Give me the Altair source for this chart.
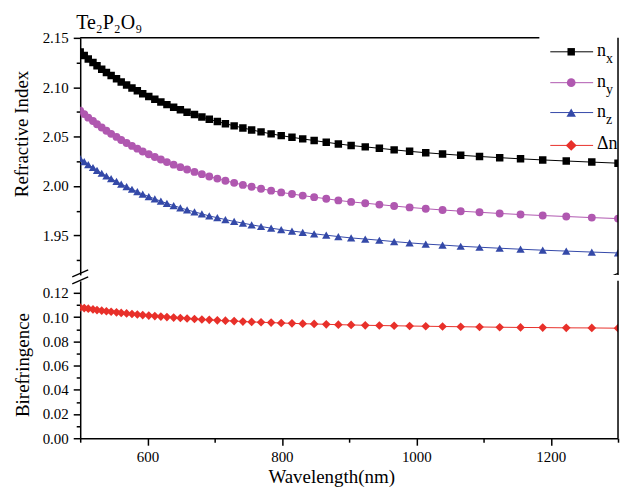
import altair as alt
import pandas as pd

# ---------------- data ----------------
wavelength = [500, 506, 512, 519, 525, 532, 539, 546, 554, 561, 569, 577, 585, 593, 602, 611,
              620, 629, 639, 649, 659, 670, 681, 692, 704, 716, 729, 742, 755, 769, 784, 799,
              815, 831, 848, 866, 884, 903, 924, 945, 967, 990, 1014, 1039, 1066, 1094, 1124,
              1155, 1188, 1223, 1261, 1300]
n_x = [2.1358, 2.1322, 2.1286, 2.1251, 2.1217, 2.1183, 2.1150, 2.1118, 2.1086, 2.1054,
       2.1023, 2.0993, 2.0964, 2.0935, 2.0906, 2.0878, 2.0851, 2.0824, 2.0798, 2.0772,
       2.0747, 2.0723, 2.0699, 2.0675, 2.0653, 2.0631, 2.0609, 2.0588, 2.0568, 2.0548,
       2.0528, 2.0510, 2.0493, 2.0477, 2.0460, 2.0443, 2.0426, 2.0410, 2.0396, 2.0382,
       2.0366, 2.0351, 2.0337, 2.0324, 2.0311, 2.0299, 2.0287, 2.0275, 2.0264, 2.0253,
       2.0242, 2.0231]
n_y = [2.0763, 2.0728, 2.0692, 2.0658, 2.0625, 2.0592, 2.0559, 2.0528, 2.0497, 2.0466,
       2.0435, 2.0406, 2.0378, 2.0350, 2.0321, 2.0294, 2.0268, 2.0242, 2.0216, 2.0191,
       2.0167, 2.0143, 2.0120, 2.0096, 2.0075, 2.0053, 2.0032, 2.0011, 1.9992, 1.9972,
       1.9953, 1.9935, 1.9919, 1.9903, 1.9887, 1.9871, 1.9854, 1.9839, 1.9826, 1.9812,
       1.9797, 1.9783, 1.9770, 1.9757, 1.9745, 1.9734, 1.9722, 1.9711, 1.9701, 1.9691,
       1.9680, 1.9670]
n_z = [2.0278, 2.0247, 2.0217, 2.0187, 2.0158, 2.0129, 2.0101, 2.0074, 2.0046, 2.0019,
       1.9993, 1.9967, 1.9943, 1.9918, 1.9893, 1.9869, 1.9846, 1.9824, 1.9802, 1.9779,
       1.9758, 1.9738, 1.9718, 1.9697, 1.9679, 1.9660, 1.9641, 1.9624, 1.9607, 1.9590,
       1.9573, 1.9558, 1.9544, 1.9531, 1.9516, 1.9502, 1.9488, 1.9474, 1.9463, 1.9451,
       1.9437, 1.9424, 1.9412, 1.9402, 1.9390, 1.9380, 1.9370, 1.9360, 1.9350, 1.9341,
       1.9331, 1.9322]
delta_n = [0.1080, 0.1075, 0.1070, 0.1064, 0.1059, 0.1054, 0.1049, 0.1045, 0.1040, 0.1035,
           0.1031, 0.1026, 0.1022, 0.1017, 0.1013, 0.1009, 0.1005, 0.1001, 0.0997, 0.0993,
           0.0989, 0.0985, 0.0981, 0.0978, 0.0974, 0.0971, 0.0968, 0.0964, 0.0961, 0.0958,
           0.0955, 0.0952, 0.0949, 0.0946, 0.0944, 0.0941, 0.0938, 0.0936, 0.0933, 0.0931,
           0.0929, 0.0927, 0.0925, 0.0923, 0.0921, 0.0919, 0.0917, 0.0915, 0.0914, 0.0912,
           0.0911, 0.0909]

series = ["nx", "ny", "nz", "dn"]
legend_main = ["n", "n", "n", "\u0394n"]
legend_sub = ["x", "y", "z", ""]
colors = ["#000000", "#B058B0", "#3449A8", "#E8302A"]
shapes = ["square", "circle", "triangle-up", "diamond"]
sizes = [56, 76, 90, 120]

x_major = [600, 800, 1000, 1200]
x_minor = [500, 700, 900, 1100, 1300]
top_major = [1.95, 2.00, 2.05, 2.10, 2.15]
top_minor = [1.925, 1.975, 2.025, 2.075, 2.125]
bot_major = [0.00, 0.02, 0.04, 0.06, 0.08, 0.10, 0.12]
bot_minor = [0.01, 0.03, 0.05, 0.07, 0.09, 0.11]

title_text = "Te\u2082P\u2082O\u2089"
FONT = "Liberation Serif"

# ---------------- layout ----------------
W, HT, HB = 540, 238, 158
X_MIN, X_MAX = 500, 1300
TOP_FRAME_END = 1183  # legend box hides the rest of the top frame line

top_df = pd.concat([
    pd.DataFrame({"wavelength": wavelength, "value": v, "series": s})
    for v, s in [(n_x, "nx"), (n_y, "ny"), (n_z, "nz")]
])
bot_df = pd.DataFrame({"wavelength": wavelength, "value": delta_n, "series": "dn"})

color_scale = alt.Scale(domain=series, range=colors)
shape_scale = alt.Scale(domain=series, range=shapes)
size_scale = alt.Scale(domain=series, range=sizes)
x_scale = alt.Scale(domain=[X_MIN, X_MAX], nice=False)
top_y_scale = alt.Scale(domain=[1.91, 2.15], nice=False, zero=False)
bot_y_scale = alt.Scale(domain=[0, 0.13], nice=False, zero=False)

one = pd.DataFrame({"_": [0]})

axis_style = dict(labelFont=FONT, labelFontSize=15, labelColor="black",
                  titleFont=FONT, titleFontSize=19, titleColor="black", titleFontWeight="normal",
                  domainColor="black", domainWidth=1.5, tickColor="black", tickWidth=1.5, grid=False)


def major_axis(values, fmt, **kw):
    return alt.Axis(values=values, format=fmt, tickSize=7, labelOverlap=False, **axis_style, **kw)


def minor_axis(values, orient):
    return alt.Axis(values=values, tickSize=4, labels=False, domain=False, title=None,
                    orient=orient, tickColor="black", tickWidth=1.5, grid=False)


symbol_enc = dict(
    shape=alt.Shape("series:N", scale=shape_scale, legend=None),
    size=alt.Size("series:N", scale=size_scale, legend=None),
)
color_enc = alt.Color("series:N", scale=color_scale, legend=None)

# ---------------- top panel ----------------
top_lines = alt.Chart(top_df).mark_line(strokeWidth=1, clip=True).encode(
    x=alt.X("wavelength:Q", scale=x_scale, axis=None),
    y=alt.Y("value:Q", scale=top_y_scale,
            axis=major_axis(top_major, ".2f", orient="left", title="Refractive Index",
                            labelPadding=5, titleX=-59, titleY=96, titleAngle=270,
                            titleAlign="center", titleBaseline="middle")),
    color=color_enc,
)
top_points = alt.Chart(top_df).mark_point(filled=True, opacity=1, clip=True).encode(
    x=alt.X("wavelength:Q", scale=x_scale, axis=None),
    y=alt.Y("value:Q", scale=top_y_scale, axis=None),
    color=color_enc, **symbol_enc,
)
top_minor_ticks = alt.Chart(top_df).mark_point(opacity=0).encode(
    x=alt.X("wavelength:Q", scale=x_scale, axis=None),
    y=alt.Y("value:Q", scale=top_y_scale, axis=minor_axis(top_minor, "left")),
)

frame_top = alt.Chart(one).mark_rule(color="black", strokeWidth=1.5).encode(
    x=alt.value(0), x2=alt.value(W * (TOP_FRAME_END - X_MIN) / (X_MAX - X_MIN)), y=alt.value(0))
frame_right_top = alt.Chart(one).mark_rule(color="black", strokeWidth=1.5).encode(
    x=alt.value(W), y=alt.value(0), y2=alt.value(HT))

breaks = []
for bx, clip in [(0, False), (W, True)]:
    for dy in [0, 7]:
        breaks.append(alt.Chart(one).mark_rule(color="black", strokeWidth=1.3, clip=clip).encode(
            x=alt.value(bx - 8), x2=alt.value(bx + 8),
            y=alt.value(HT + 2 + dy), y2=alt.value(HT - 5 + dy)))

title_mark = alt.Chart(one).mark_text(
    text=title_text, font=FONT, fontSize=20, align="left", baseline="alphabetic", color="black"
).encode(x=alt.value(-4), y=alt.value(-9))

legend_layers = []
legend_rows = [14, 45, 75, 108]
for i, s in enumerate(series):
    yy = legend_rows[i]
    legend_layers.append(alt.Chart(one).mark_rule(color=colors[i], strokeWidth=1).encode(
        x=alt.value(472), x2=alt.value(515), y=alt.value(yy)))
    legend_layers.append(alt.Chart(one).mark_point(
        filled=True, opacity=1, shape=shapes[i], size=sizes[i], color=colors[i]
    ).encode(x=alt.value(493), y=alt.value(yy)))
    legend_layers.append(alt.Chart(one).mark_text(
        text=legend_main[i], font=FONT, fontSize=18, align="left", baseline="middle", color="black"
    ).encode(x=alt.value(519), y=alt.value(yy - 1)))
    if legend_sub[i]:
        legend_layers.append(alt.Chart(one).mark_text(
            text=legend_sub[i], font=FONT, fontSize=14, align="left", baseline="middle", color="black"
        ).encode(x=alt.value(528), y=alt.value(yy + 7)))

top = alt.layer(top_lines, top_points, top_minor_ticks, frame_top, frame_right_top, title_mark,
                *breaks, *legend_layers).resolve_axis(y="independent").properties(width=W, height=HT)

# ---------------- bottom panel ----------------
bot_lines = alt.Chart(bot_df).mark_line(strokeWidth=1, clip=True).encode(
    x=alt.X("wavelength:Q", scale=x_scale,
            axis=major_axis(x_major, "d", orient="bottom", title="Wavelength(nm)", labelPadding=4,
                            titleX=252, titleY=38, titleBaseline="middle")),
    y=alt.Y("value:Q", scale=bot_y_scale,
            axis=major_axis(bot_major, ".2f", orient="left", title="Birefringence", labelPadding=5,
                            titleX=-58, titleY=84, titleAngle=270, titleAlign="center",
                            titleBaseline="middle")),
    color=color_enc,
)
bot_points = alt.Chart(bot_df).mark_point(filled=True, opacity=1, clip=True).encode(
    x=alt.X("wavelength:Q", scale=x_scale, axis=None),
    y=alt.Y("value:Q", scale=bot_y_scale, axis=None),
    color=color_enc, **symbol_enc,
)
bot_minor_ticks = alt.Chart(bot_df).mark_point(opacity=0).encode(
    x=alt.X("wavelength:Q", scale=x_scale, axis=minor_axis(x_minor, "bottom")),
    y=alt.Y("value:Q", scale=bot_y_scale, axis=minor_axis(bot_minor, "left")),
)
frame_right_bot = alt.Chart(one).mark_rule(color="black", strokeWidth=1.5).encode(
    x=alt.value(W), y=alt.value(0), y2=alt.value(HB))

bottom = alt.layer(bot_lines, bot_points, bot_minor_ticks, frame_right_bot).resolve_axis(
    x="independent", y="independent").properties(width=W, height=HB)

chart = alt.vconcat(top, bottom, spacing=6).properties(
    bounds="flush", padding={"left": 4.5, "top": 4, "right": 0, "bottom": 0}
).configure_view(stroke=None)

chart.save("out.html", embed_options={"renderer": "svg", "actions": False})
